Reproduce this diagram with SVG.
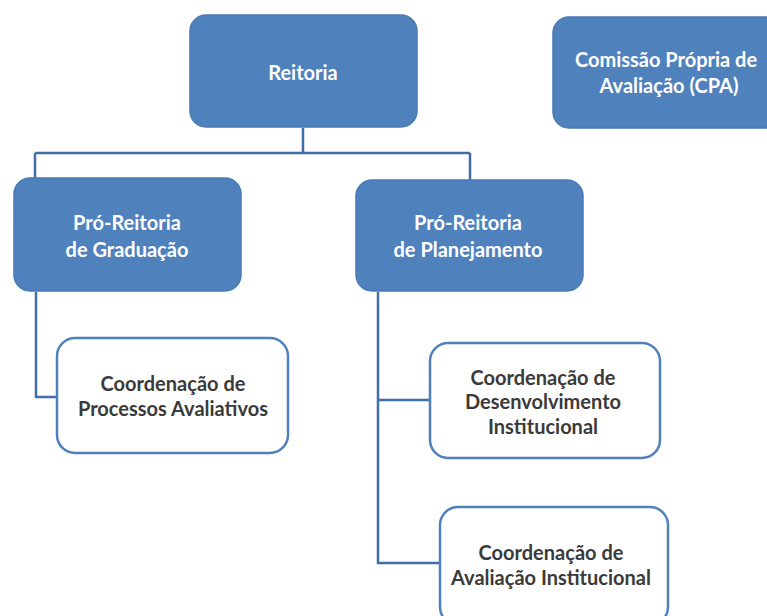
<svg xmlns="http://www.w3.org/2000/svg" width="767" height="616" viewBox="0 0 767 616">
<style>
.blue{fill:#4F81BD;stroke:#4A7AB5;stroke-width:1.5}
.white{fill:#FFFFFF;stroke:#4F81BD;stroke-width:2.5}
.conn{fill:none;stroke:#3F6EA8;stroke-width:2.5}
text{font-family:Lato,"Liberation Sans",sans-serif;font-weight:bold;font-size:20px;text-anchor:middle}
.tw{fill:#FFFFFF}
.td{fill:#3A3A3A}
</style>
<rect width="767" height="616" fill="#FFFFFF"/>
<g id="connectors">
<path class="conn" d="M303 128 V153 M35 153 H470 M35 153 V179 M470 153 V180"/>
<path class="conn" d="M36 292 V397 H57"/>
<path class="conn" d="M378 292 V563 H440 M378 400 H430"/>
</g>
<g id="reitoria">
<rect class="blue" x="190" y="15" width="227" height="112" rx="16"/>
<text class="tw" x="303" y="80">Reitoria</text>
</g>
<g id="cpa">
<rect class="blue" x="553" y="17" width="230" height="111" rx="16"/>
<text class="tw" x="666" y="67">Comissão Própria de</text>
<text class="tw" x="669" y="93">Avaliação (CPA)</text>
</g>
<g id="prograd">
<rect class="blue" x="14" y="178" width="227" height="113" rx="16"/>
<text class="tw" x="127" y="230">Pró-Reitoria</text>
<text class="tw" x="127" y="257">de Graduação</text>
</g>
<g id="proplan">
<rect class="blue" x="356" y="180" width="227" height="111" rx="16"/>
<text class="tw" x="468" y="230">Pró-Reitoria</text>
<text class="tw" x="468" y="257">de Planejamento</text>
</g>
<g id="coord-processos">
<rect class="white" x="57" y="338" width="231" height="115" rx="18"/>
<text class="td" x="173" y="391">Coordenação de</text>
<text class="td" x="173" y="416">Processos Avaliativos</text>
</g>
<g id="coord-desenvolvimento">
<rect class="white" x="430" y="343" width="230" height="115" rx="18"/>
<text class="td" x="543" y="385">Coordenação de</text>
<text class="td" x="543" y="409">Desenvolvimento</text>
<text class="td" x="543" y="434">Institucional</text>
</g>
<g id="coord-avaliacao">
<rect class="white" x="440" y="507" width="228" height="118" rx="18"/>
<text class="td" x="551" y="560">Coordenação de</text>
<text class="td" x="551" y="585">Avaliação Institucional</text>
</g>
</svg>
